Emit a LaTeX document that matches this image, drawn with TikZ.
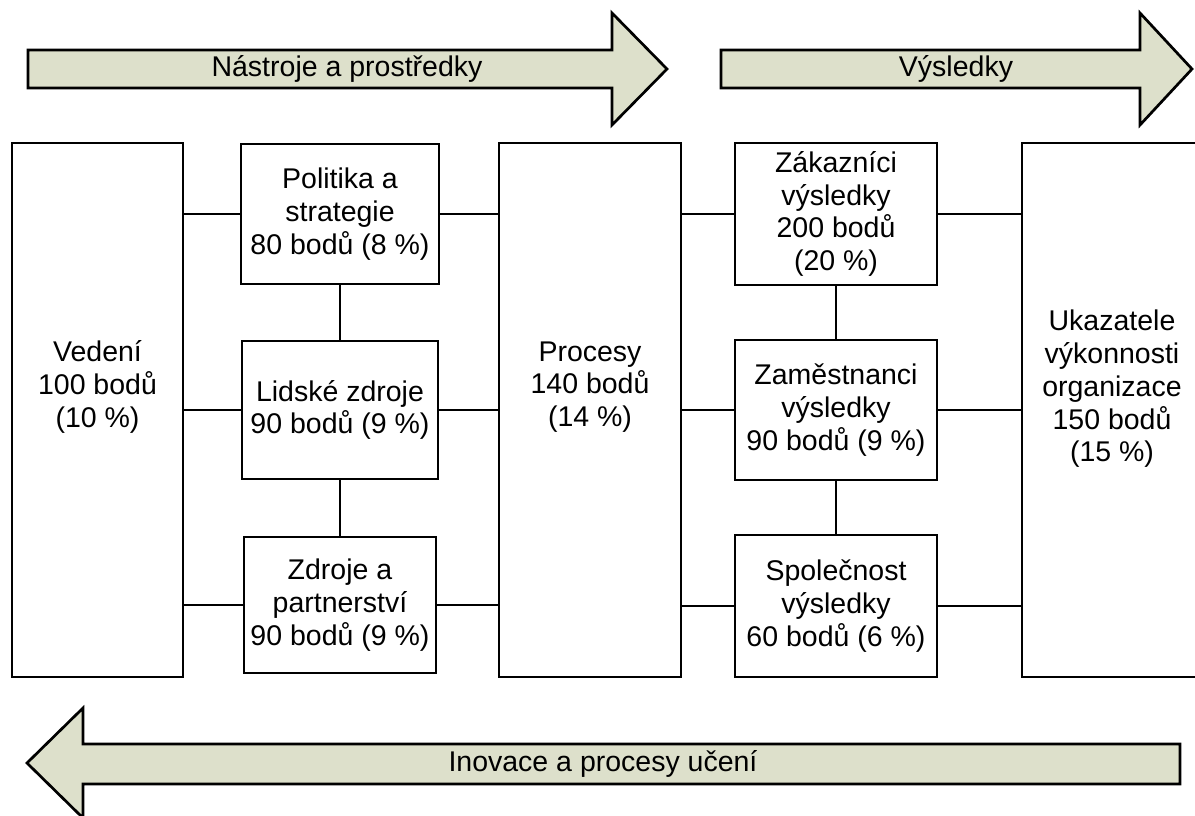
\documentclass[tikz,border=0pt]{standalone}
\usepackage{fontspec}
\setmainfont{Liberation Sans}
\begin{document}
\definecolor{sage}{RGB}{221,224,203}
\tikzset{
  every node/.style={font=\fontsize{28.5}{32.8}\selectfont, inner sep=0pt},
  box/.style={draw=black, line width=2.7pt, fill=white, align=center},
  bigbox/.style={box, minimum width=#1, minimum height=534pt},
  smallbox/.style={box, minimum width=198pt, minimum height=140pt},
  link/.style={draw=black, line width=2.7pt},
  flow/.style={draw=black, line width=2.7pt, fill=sage, line join=miter},
  lbl/.style={align=center}
}
\begin{tikzpicture}[x=1pt,y=-1pt]
\clip (0,0) rectangle (1195,815);
\fill[white] (0,0) rectangle (1195,815);

% flow arrows
\draw[flow] (28,50) -- (612,50) -- (612,13) -- (667,69) -- (612,125) -- (612,88) -- (28,88) -- cycle;
\node[lbl] (toolsT) at (347,69) {Nástroje a prostředky};
\draw[flow] (721,50) -- (1140,50) -- (1140,13) -- (1192,69) -- (1140,125) -- (1140,88) -- (721,88) -- cycle;
\node[lbl] (resultsT) at (956,69) {Výsledky};
\draw[flow] (1180,744) -- (83,744) -- (83,708) -- (27,763) -- (83,818) -- (83,784) -- (1180,784) -- cycle;
\node[lbl] (learnT) at (603,764) {Inovace a procesy učení};

% large columns
\node[bigbox=171pt] (ved) at (97.5,410) {};
\node[lbl] (vedT) at (ved.center |- 0,387) {Vedení\\100 bodů\\(10~\%)};
\node[bigbox=182pt] (proc) at (590,410) {};
\node[lbl] (procT) at (proc.center |- 0,387) {Procesy\\140 bodů\\(14~\%)};
\node[bigbox=190pt] (uk) at (1117,410) {};
\node[lbl] (ukT) at (1112,389) {Ukazatele\\výkonnosti\\organizace\\150 bodů\\(15~\%)};

% enablers
\node[smallbox, minimum width=198pt] (pol) at (340,214) {Politika a\\strategie\\80 bodů (8~\%)};
\node[smallbox, minimum width=196pt, minimum height=138pt] (lid) at (340,410) {Lidské zdroje\\90 bodů (9~\%)};
\node[smallbox, minimum width=192pt, minimum height=136pt] (zdr) at (340,605) {Zdroje a\\partnerství\\90 bodů (9~\%)};

% results
\node[smallbox, minimum width=202pt, minimum height=142pt] (zak) at (836,214) {Zákazníci\\výsledky\\200 bodů\\(20~\%)};
\node[smallbox, minimum width=202pt] (zam) at (836,410) {Zaměstnanci\\výsledky\\90 bodů (9~\%)};
\node[smallbox, minimum width=202pt, minimum height=142pt] (spo) at (836,606) {Společnost\\výsledky\\60 bodů (6~\%)};

% horizontal links
\foreach \b in {pol,lid,zdr} {
  \draw[link] (ved.east |- \b.west) -- (\b.west);
  \draw[link] (\b.east) -- (proc.west |- \b.east);
}
\foreach \b in {zak,zam,spo} {
  \draw[link] (proc.east |- \b.west) -- (\b.west);
  \draw[link] (\b.east) -- (uk.west |- \b.east);
}
% vertical links
\draw[link] (pol.south) -- (lid.north);
\draw[link] (lid.south) -- (zdr.north);
\draw[link] (zak.south) -- (zam.north);
\draw[link] (zam.south) -- (spo.north);
\end{tikzpicture}
\end{document}
